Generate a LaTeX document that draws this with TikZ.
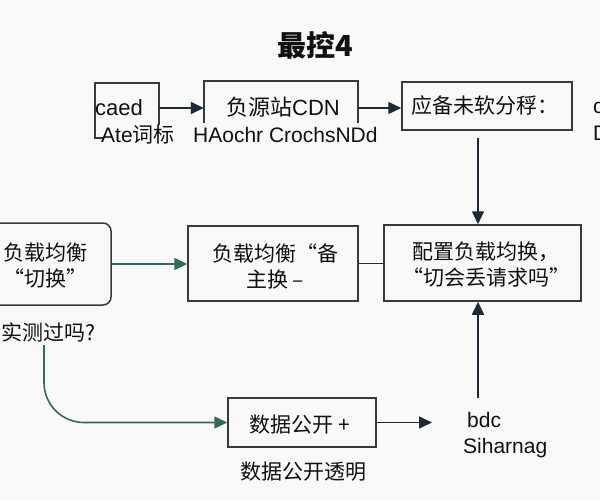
\documentclass[tikz,border=0pt]{standalone}
\usepackage{fontspec}
\setmainfont{Liberation Sans}
\newfontfamily\cjk{Noto Sans CJK SC}
\newfontfamily\latm{Liberation Sans}
\usetikzlibrary{arrows.meta,calc}
\definecolor{linec}{HTML}{363B40}
\definecolor{navy}{HTML}{1E2A33}
\definecolor{grn}{HTML}{2E6B58}
\definecolor{bgc}{HTML}{F9F9F8}
\definecolor{txtc}{HTML}{101010}
\tikzset{
  boxline/.style={draw=linec, line width=1.5pt},
  frame/.style={draw=linec, line width=1.5pt, inner sep=0pt, align=center},
  ghost/.style={inner sep=0pt},
  arr/.style={draw=navy, line width=1.6pt, -{Triangle[length=13pt,width=12pt]}},
  garr/.style={draw=grn, line width=1.6pt, -{Triangle[length=13pt,width=12pt]}},
  plain/.style={draw=navy, line width=1.6pt},
  txt/.style={inner sep=0pt, text=txtc, font=\latm\fontsize{21}{25}\selectfont},
  ctxt/.style={inner sep=0pt, text=txtc, font=\cjk\fontsize{21}{26}\selectfont, align=center},
}
\begin{document}
\begin{tikzpicture}[x=1pt,y=-1pt]
\fill[bgc] (0,0) rectangle (600,500);
\useasboundingbox (0,0) rectangle (600,500);
\begin{scope}
\clip (0,0) rectangle (600,500);

% title
\node[inner sep=0pt, text=txtc, font=\cjk\bfseries\fontsize{29}{32}\selectfont] (title) at (315,45) {最控4};

% top row
\node[ghost, minimum width=64, minimum height=50] (caedbox) at (127,108) {};
\draw[boxline] ($(caedbox.north west)+(8,55)$) -- ($(caedbox.north west)+(0,55)$) -- (caedbox.north west) -- (caedbox.north east) -- ($(caedbox.north east)+(0,42)$);
\node[txt, anchor=west, font=\latm\fontsize{22}{25}\selectfont] (caed) at (95,108) {caed};
\node[txt, anchor=west] (ate) at (101,135) {Ate{\cjk 词标}};

\node[ghost, minimum width=154, minimum height=54] (cdn) at (281,108) {};
\draw[boxline] ($(cdn.north west)+(0,42)$) -- (cdn.north west) -- (cdn.north east) -- ($(cdn.north east)+(0,42)$);
\node[txt, font=\latm\fontsize{22}{25}\selectfont] (cdnt) at (283,107) {{\cjk 负源站}CDN};
\node[txt, anchor=west] (hao) at (193,135) {HAochr CrochsNDd};

\node[frame, minimum width=170, minimum height=48] (ying) at (487,106) {};
\node[ctxt] (yingt) at (485,106) {应备未软分稃：};
\node[txt, anchor=west] (rc) at (593,108) {c};
\node[txt, anchor=west] (rd) at (593,133) {D};

\draw[arr] (caedbox.east) -- (cdn.west);
\draw[arr] (cdn.east) -- (ying.west |- cdn.east);

% middle row
\node[frame, rounded corners=8pt, minimum width=132, minimum height=82] (lb) at (45,264) {};
\node[ctxt] (lbt) at (46,266) {负载均衡\\“切换”};
\node[ctxt] (q) at (48,332) {实测过吗?};

\node[frame, minimum width=170, minimum height=75] (mid) at (273,263.5) {};
\node[ctxt] (midt) at (275,266) {负载均衡“备\\主换 –};

\node[frame, minimum width=197, minimum height=76] (pz) at (482.5,263) {};
\node[ctxt] (pzt) at (486,265) {配置负载均换，\\“切会丢请求吗”};

\coordinate (vtop) at (478,138);
\coordinate (vbot) at (478,398);
\draw[arr] (vtop) -- (vtop |- pz.north);
\draw[arr] (vbot) -- (vbot |- pz.south);

\draw[garr] (lb.east) -- (mid.west |- lb.east);
\draw[plain] (mid.east) -- (pz.west |- mid.east);

% bottom
\node[frame, minimum width=148, minimum height=49] (db) at (302,422.5) {};
\node[ctxt] (dbt) at (300,425) {数据公开 +};
\node[ctxt] (dbl) at (303,472) {数据公开透明};

\coordinate (g0) at (44,345);
\draw[garr, rounded corners=40pt] (g0) |- (db.west);

\coordinate (bend) at (432,422.5);
\draw[arr] (db.east) -- (bend);

\node[txt, anchor=west] (bdc) at (467,420) {bdc};
\node[txt, anchor=west] (sih) at (463,448) {Siharnag};
\end{scope}
\end{tikzpicture}
\end{document}
